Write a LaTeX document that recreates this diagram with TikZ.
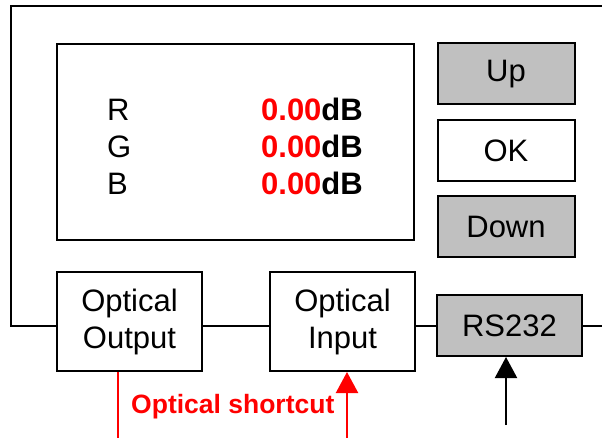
\documentclass[tikz,border=0pt]{standalone}
\usepackage{fontspec}
\setmainfont{Liberation Sans}
\usepackage{xcolor}
\usetikzlibrary{arrows.meta,positioning}
\definecolor{btngray}{HTML}{C0C0C0}
\newcommand{\dBzero}{\textbf{\textcolor{red}{0.00}dB}}

\begin{document}
\begin{tikzpicture}[x=1pt,y=-1pt,>={Triangle[width=22pt,length=21pt]},node distance=13.5pt,
  box/.style={draw=black,line width=2pt,fill=white,inner sep=0pt,align=center,font=\fontsize{31}{37}\selectfont},
  btn/.style={box,minimum width=137pt,minimum height=61pt},
  port/.style={box,minimum width=145pt,minimum height=99pt},
  wire/.style={line width=2pt},
  lab/.style={inner sep=0pt,font=\fontsize{31}{37}\selectfont},
  every node/.style={inner sep=2pt}]
\useasboundingbox (0,0) rectangle (602,438);
% display and keys
\node[box,minimum width=357pt,minimum height=196pt] (disp) at (235.5,142) {};
\node[btn,fill=btngray] (up) at (506,74) {Up};
\node[btn,below=of up] (ok) {OK};
\node[btn,fill=btngray,below=of ok] (down) {Down};
\node[lab,anchor=base west] (rR) at (107,121) {R};
\node[lab,anchor=base west] (rG) at (107,158) {G};
\node[lab,anchor=base west] (rB) at (107,195) {B};
\node[lab,anchor=base east] (vR) at (363,121) {\dBzero};
\node[lab,anchor=base east] (vG) at (363,158) {\dBzero};
\node[lab,anchor=base east] (vB) at (363,195) {\dBzero};
% ports
\node[port] (oout) at (129.5,321.5) {Optical\\Output};
\node[port,right=66pt of oout] (oin) {Optical\\Input};
\node[box,fill=btngray,minimum width=145pt,minimum height=61pt] (rs) at (509.5,325.5) {RS232};
\coordinate (ftr) at (602,6);
\coordinate (ftl) at (11,6);
\draw[wire] (ftr) -- (ftl) |- (oout.west |- rs.west);
\draw[wire] (oout.east |- rs.west) -- (oin.west |- rs.west);
\draw[wire] (oin.east |- rs.west) -- (rs.west);
\draw[wire] (rs.east) -- (rs.east -| ftr);
% optical shortcut
\coordinate (scout) at (118,438);
\coordinate (scin) at (347,438);
\draw[red,line width=2.2pt] (oout.south -| scout) -- (scout);
\draw[->,red,line width=2.2pt] (scin) -- (oin.south -| scin);
\node[anchor=base west,inner sep=0pt,text=red,font=\fontsize{26.5}{30}\selectfont\bfseries] (sclab) at (131,413) {Optical shortcut};
% serial input
\coordinate (rsin) at (506,425);
\draw[->,wire] (rsin) -- (rs.south -| rsin);
\end{tikzpicture}
\end{document}
